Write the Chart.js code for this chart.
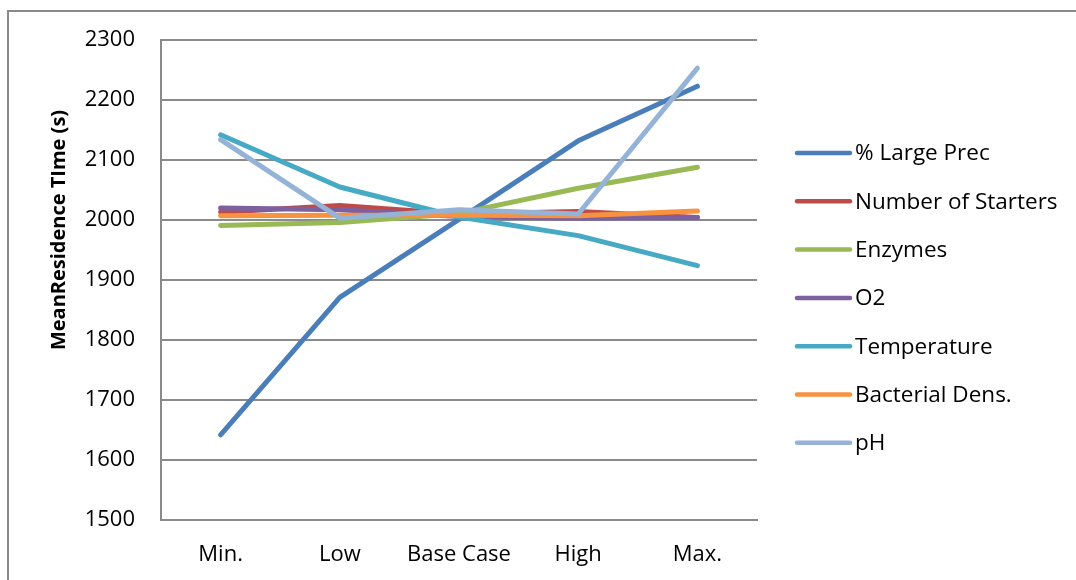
<!DOCTYPE html>
<html>
<head>
<meta charset="utf-8">
<script src="https://cdn.jsdelivr.net/npm/chart.js@4/dist/chart.umd.min.js"></script>
<style>
  html, body { margin: 0; padding: 0; background: #fff; }
  #wrap { position: relative; width: 1076px; height: 580px; overflow: hidden; }
  #frame { position: absolute; left: 7px; top: 10px; width: 1200px; height: 700px;
           border-top: 2px solid #8a8a8a; border-left: 2px solid #8a8a8a; }
  canvas { position: absolute; left: 0; top: 0; }
</style>
</head>
<body>
<div id="wrap">
  <div id="frame"></div>
  <canvas id="chart" width="1076" height="580"></canvas>
</div>
<script>
// scenario levels along the x axis
const levels = ["Min.", "Low", "Base Case", "High", "Max."];

// mean residence time (s) for each parameter sweep
const largePrec = [1642, 1871, 2001, 2132, 2223];
const starters = [2013, 2024, 2010, 2014, 2004];
const enzymes = [1991, 1996, 2011, 2053, 2088];
const o2 = [2020, 2017, 2006, 2003, 2004];
const temperature = [2142, 2055, 2005, 1974, 1924];
const bacterialDens = [2007, 2008, 2008, 2007, 2015];
const ph = [2134, 2003, 2017, 2010, 2253];

const seriesNames = ["% Large Prec", "Number of Starters", "Enzymes", "O2",
  "Temperature", "Bacterial Dens.", "pH"];
const seriesValues = [largePrec, starters, enzymes, o2, temperature, bacterialDens, ph];
const seriesColors = ["#4a7ebb", "#be4b48", "#98b954", "#7d60a0", "#46aac5", "#f69240", "#95b3d7"];

// y axis tick range
const yMin = 1500;
const yMax = 2300;
const yStep = 100;

const FONT = "'Open Sans', sans-serif";
const GRID = "#8a8a8a";

const datasets = seriesNames.map((name, i) => ({
  label: name,
  data: seriesValues[i],
  borderColor: seriesColors[i],
  backgroundColor: seriesColors[i],
  borderWidth: 5,
  borderCapStyle: "round",
  borderJoinStyle: "round",
  pointRadius: 0,
  tension: 0,
  // later series painted on top
  order: seriesNames.length - i,
}));

// legend on the right + rotated axis title
const sideDecor = {
  id: "sideDecor",
  afterDraw(chart) {
    const ctx = chart.ctx;
    ctx.save();
    ctx.font = "22.5px " + FONT;
    ctx.textBaseline = "middle";
    ctx.textAlign = "left";
    chart.data.datasets.forEach((ds, i) => {
      const y = 153 + i * 48.3;
      ctx.strokeStyle = ds.borderColor;
      ctx.lineWidth = 4.5;
      ctx.lineCap = "round";
      ctx.beginPath();
      ctx.moveTo(797, y);
      ctx.lineTo(850, y);
      ctx.stroke();
      ctx.fillStyle = "#000";
      ctx.fillText(ds.label, 855, y + 1);
    });

    ctx.translate(59, 230);
    ctx.rotate(-Math.PI / 2);
    ctx.font = "bold 20px " + FONT;
    ctx.textAlign = "center";
    ctx.fillStyle = "#000";
    ctx.fillText("MeanResidence TIme (s)", 0, 0);
    ctx.restore();
  },
};

const ctx = document.getElementById("chart").getContext("2d");
new Chart(ctx, {
  type: "line",
  data: { labels: levels, datasets: datasets },
  options: {
    responsive: false,
    animation: false,
    layout: { padding: { top: 40, right: 319, left: 0, bottom: 0 } },
    plugins: {
      legend: { display: false },
      tooltip: { enabled: false },
    },
    scales: {
      x: {
        offset: true,
        grid: { display: false, drawTicks: false },
        border: { display: true, color: GRID, width: 2 },
        ticks: { color: "#000", font: { family: FONT, size: 22 }, padding: 22 },
        afterFit: (scale) => { scale.height = 60; },
      },
      y: {
        min: yMin,
        max: yMax,
        grid: { color: GRID, lineWidth: 2, drawTicks: false },
        border: { display: true, color: GRID, width: 2 },
        ticks: {
          stepSize: yStep,
          color: "#000",
          font: { family: FONT, size: 22 },
          padding: 26,
          callback: (v) => String(v),
        },
        afterFit: (scale) => { scale.width = 161; },
      },
    },
  },
  plugins: [sideDecor],
});
</script>
</body>
</html>
